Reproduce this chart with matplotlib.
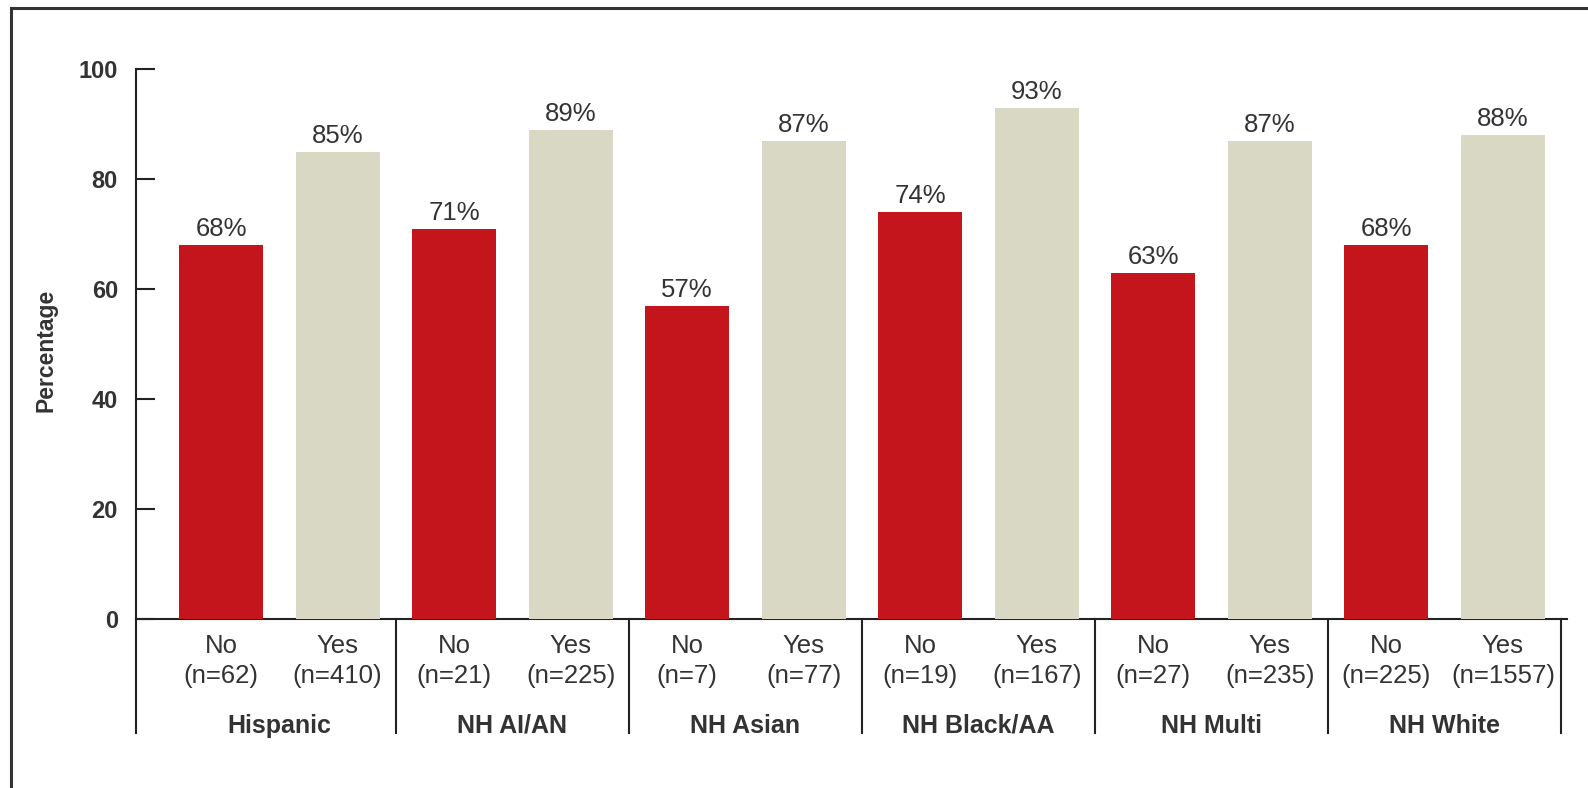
import matplotlib
matplotlib.use("Agg")
import matplotlib.pyplot as plt
from matplotlib.lines import Line2D
import matplotlib.transforms as mtransforms

groups = ["Hispanic", "NH AI/AN", "NH Asian", "NH Black/AA", "NH Multi", "NH White"]
no_vals = [68, 71, 57, 74, 63, 68]
yes_vals = [85, 89, 87, 93, 87, 88]
no_n = [62, 21, 7, 19, 27, 225]
yes_n = [410, 225, 77, 167, 235, 1557]
yticks = [0, 20, 40, 60, 80, 100]

RED = "#C5151C"
BEIGE = "#D9D8C4"
TXT = "#333333"

plt.rcParams['font.family'] = ['Liberation Sans', 'DejaVu Sans']

fig = plt.figure(figsize=(15.88, 7.88), dpi=100)
ax = fig.add_axes([136/1588, 1-619/788, (1567-136)/1588, (619-69)/788])

x = list(range(len(groups)))
off = 0.25
w = 0.36
xn = [i - off for i in x]
xy = [i + off for i in x]
ax.bar(xn, no_vals, width=w, color=RED, zorder=3)
ax.bar(xy, yes_vals, width=w, color=BEIGE, zorder=3)

for xi, v in zip(xn, no_vals):
    ax.text(xi, v + 0.7, f"{v}%", ha='center', va='bottom', fontsize=18.5, color=TXT)
for xi, v in zip(xy, yes_vals):
    ax.text(xi, v + 0.7, f"{v}%", ha='center', va='bottom', fontsize=18.5, color=TXT)

ax.set_xlim(-0.615, 5.525)
ax.set_ylim(0, 100)
ax.set_yticks(yticks)
ax.set_yticklabels([str(t) for t in yticks], fontweight='bold', fontsize=17, color=TXT)
ax.tick_params(axis='y', direction='in', length=13.5, width=1.5, pad=13, color="#222222")
ax.set_xticks([])

for s in ['top', 'right']:
    ax.spines[s].set_visible(False)
for s in ['left', 'bottom']:
    ax.spines[s].set_linewidth(1.5)
    ax.spines[s].set_color("#222222")

trans = mtransforms.blended_transform_factory(ax.transData, ax.transAxes)
bot = -0.207
seps = [-0.615] + [i + 0.5 for i in x]
for sx in seps:
    ax.add_line(Line2D([sx, sx], [bot, 0], transform=trans, color="#222222",
                       lw=1.5, clip_on=False))

for xi, n in zip(xn, no_n):
    ax.text(xi, -0.028, f"No\n(n={n})", transform=trans, ha='center', va='top',
            fontsize=18.5, color=TXT, linespacing=1.3)
for xi, n in zip(xy, yes_n):
    ax.text(xi, -0.028, f"Yes\n(n={n})", transform=trans, ha='center', va='top',
            fontsize=18.5, color=TXT, linespacing=1.3)
for xi, g in zip(x, groups):
    ax.text(xi, -0.194, g, transform=trans, ha='center', va='center',
            fontsize=18, fontweight='bold', color=TXT)

fig.text(46/1588, 1-350/788, "Percentage", rotation=90, ha='center', va='center',
         fontsize=16.5, fontweight='bold', color=TXT)

# outer frame (left and top edges visible)
fig.add_artist(Line2D([11/1588, 11/1588], [0, 1-8/788], transform=fig.transFigure,
                      color="#333333", lw=2.2))
fig.add_artist(Line2D([11/1588, 1], [1-8/788, 1-8/788], transform=fig.transFigure,
                      color="#333333", lw=2.2))

fig.savefig("out.png", dpi=100)
